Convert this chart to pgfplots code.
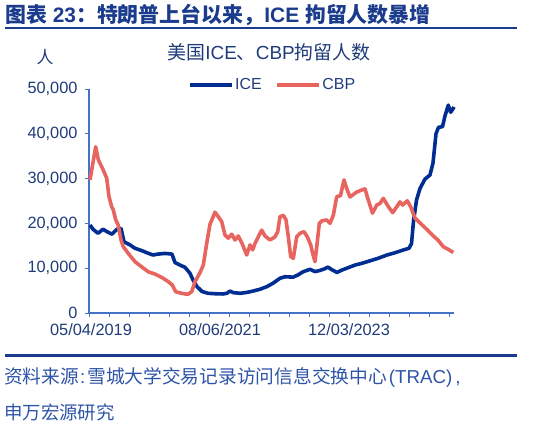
\documentclass[border=0pt]{standalone}
\usepackage{fontspec}
\usepackage{pgfplots}
\pgfplotsset{compat=1.18}
\usepackage{pgfplotstable}
\setmainfont{Liberation Sans}
\newfontfamily\cjk{Noto Sans CJK SC}
\definecolor{iceblue}{HTML}{002D91}
\definecolor{cbpred}{HTML}{E8645F}
\definecolor{titleblue}{HTML}{1B3C8C}
\definecolor{textnavy}{HTML}{1F3B7A}
\definecolor{axisblue}{HTML}{4472C4}
\definecolor{footblue}{HTML}{2E54A8}

% x is the horizontal position along the date axis (category index scaled)
\pgfplotstableread{
x y
90 19640
93 18700
98 17800
103 18700
107 18150
112 17600
117 18700
121 18900
124 15900
130 15200
135 14450
142 13900
148 13350
153 12950
158 13150
165 13300
172 13150
175 11250
180 10700
185 10200
190 8850
193 7400
197 5900
202 4800
208 4400
215 4300
223 4250
227 4400
230 4900
233 4550
240 4400
247 4600
253 4900
260 5300
267 5900
273 6650
280 7750
285 8100
293 8000
298 8500
303 9200
310 9750
315 9250
320 9500
325 9900
328 10250
332 9650
337 9050
342 9600
348 10100
355 10700
362 11100
370 11650
378 12200
387 12950
395 13450
403 14050
409 14450
411.5 15500
413.5 20500
416.5 25200
420 27800
425 29900
430 30800
433 33500
436 40000
438.5 41450
442.5 41600
445 44000
448.3 46400
450.7 44800
453.3 45700
454 46000
}\icedata

\pgfplotstableread{
x y
90 29700
95.7 37100
98.3 34200
103.3 31900
106.7 30100
109 26000
111.7 23700
113.3 23000
115.7 20800
118.3 19600
121 16300
123.3 14800
128.3 13300
135 11450
141.7 10300
148.3 9200
155 8700
161.7 7950
168.3 7000
172.3 6250
175.7 4750
181.7 4400
187.7 4150
191.7 4750
195 7000
200 9000
203.3 10700
206.7 15550
210 19800
215 22500
218.3 21500
221.7 20400
225 17400
228.3 16700
231.7 17600
235 16300
238.3 17200
241.7 15700
246.7 12950
250 15200
252.7 14100
255 15550
258.3 17000
261.7 18500
265 17200
270 16300
275 17000
277.7 18150
280 21500
283.3 21800
286 20800
288.3 17000
290.7 12600
293.3 12200
296.7 17000
300 17800
304 18150
307.3 17000
310.7 15200
312.7 13300
315 11450
317.3 15900
319.3 20000
322 20600
326.7 20760
330 20020
333.3 21800
336.7 25960
340.5 26200
344 29700
346.7 27800
350 25900
356.7 27000
361.7 27450
365 27700
368.3 25200
372.5 22300
376.7 24100
380 24450
383.3 25600
388.3 23750
392.7 22400
396.7 23700
400 24800
402.7 24100
407.3 25050
410.7 23700
415 21200
420 20100
426.7 18700
433.3 17200
438.3 16200
443.3 14800
448.3 14200
453.3 13500
}\cbpdata

\begin{document}
\begin{tikzpicture}
\path[use as bounding box] (0,0) rectangle (534bp,-424bp);

% header
\node[anchor=west, inner sep=0, text=titleblue, font=\fontsize{21}{25}\selectfont\bfseries]
  at (5bp,-15bp) {{\cjk 图表} 23{\cjk ：特朗普上台以来，}ICE {\cjk 拘留人数暴增}};
\draw[titleblue, line width=2.5bp] (5bp,-28bp) -- (517bp,-28bp);

\node[text=textnavy, font=\fontsize{19}{23}\selectfont]
  at (269bp,-52bp) {{\cjk 美国}ICE{\cjk 、}CBP{\cjk 拘留人数}};
\node[text=textnavy, font=\fontsize{17}{20}\selectfont\cjk] at (45bp,-57bp) {人};

\begin{axis}[
  at={(89bp,-313bp)}, anchor=south west,
  scale only axis, width=365bp, height=224bp,
  xmin=89, xmax=454, ymin=0, ymax=50000,
  axis lines*=left,
  axis line style={draw=axisblue, line width=1.2bp},
  tick align=outside,
  xtick={91,220,349},
  xticklabels={05/04/2019,08/06/2021,12/03/2023},
  major x tick style={draw=none},
  minor xtick={89,109,...,449},
  minor tick length=4bp,
  minor tick style={draw=axisblue, line width=1bp},
  major tick length=4bp,
  ytick={0,10000,...,50000},
  major y tick style={draw=axisblue, line width=1bp},
  scaled y ticks=false,
  /pgf/number format/.cd, 1000 sep={,}, assume math mode=true,
  /pgfplots/.cd,
  tick label style={text=textnavy, font=\fontsize{16.4}{19}\selectfont},
  xticklabel style={yshift=-3bp},
  yticklabel style={xshift=-4bp},
  legend style={draw=none, fill=none, inner sep=0pt,
    at={(axis description cs:0.271,1.018)}, anchor=west,
    font=\fontsize{16}{19}\selectfont\color{textnavy},
    /tikz/every even column/.append style={column sep=12bp},
    nodes={inner sep=1.5bp}},
  legend columns=2,
  legend image code/.code={\draw[#1] (0bp,0bp) -- (42bp,0bp);},
  clip=false,
]
\addplot[iceblue, line width=3.6bp, line join=round] table {\icedata};
\addlegendentry{ICE}
\addplot[cbpred, line width=3.6bp, line join=round] table {\cbpdata};
\addlegendentry{CBP}
\end{axis}

% footer
\draw[titleblue, line width=3bp] (5bp,-355bp) -- (517bp,-355bp);
\node[anchor=west, inner sep=0, text=footblue, font=\fontsize{18.8}{22}\selectfont]
  at (4bp,-377bp) {{\cjk 资料来源}\hspace{1bp}:\hspace{2bp}{\cjk 雪城大学交易记录访问信息交换中心}\hspace{2bp}(TRAC)\hspace{3bp},};
\node[anchor=west, inner sep=0, text=footblue, font=\fontsize{18.5}{22}\selectfont\cjk]
  at (4bp,-412bp) {申万宏源研究};
\end{tikzpicture}
\end{document}
